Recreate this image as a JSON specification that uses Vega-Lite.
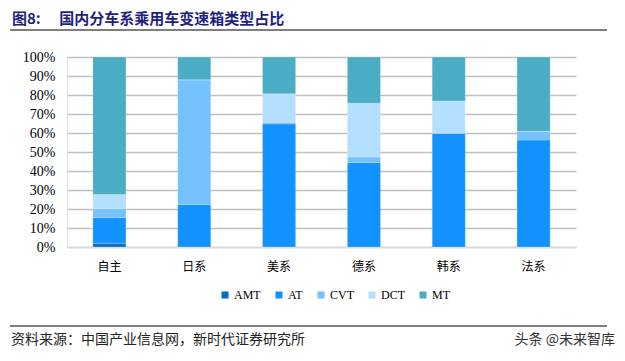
{
  "$schema": "https://vega.github.io/schema/vega-lite/v6.json",
  "autosize": {"type": "none"},
  "width": 509,
  "height": 190,
  "padding": {"left": 67, "top": 57, "right": 49, "bottom": 114},
  "background": "white",
  "title": {
    "text": "图8:　 国内分车系乘用车变速箱类型占比",
    "anchor": "start",
    "frame": "group",
    "dx": -55,
    "dy": 2,
    "font": "Noto Sans CJK SC",
    "fontSize": 15,
    "fontWeight": "bold",
    "color": "#1f1f80"
  },
  "config": {
    "view": {"stroke": null},
    "axis": {"labelFont": "Liberation Serif"}
  },
  "layer": [
    {
      "data": {
        "values": [
          {"brand": "自主", "type": "AMT", "share": 0.02},
          {"brand": "自主", "type": "AT", "share": 0.135},
          {"brand": "自主", "type": "CVT", "share": 0.047},
          {"brand": "自主", "type": "DCT", "share": 0.074},
          {"brand": "自主", "type": "MT", "share": 0.724},
          {"brand": "日系", "type": "AMT", "share": 0},
          {"brand": "日系", "type": "AT", "share": 0.224},
          {"brand": "日系", "type": "CVT", "share": 0.656},
          {"brand": "日系", "type": "DCT", "share": 0},
          {"brand": "日系", "type": "MT", "share": 0.12},
          {"brand": "美系", "type": "AMT", "share": 0},
          {"brand": "美系", "type": "AT", "share": 0.648},
          {"brand": "美系", "type": "CVT", "share": 0.009},
          {"brand": "美系", "type": "DCT", "share": 0.149},
          {"brand": "美系", "type": "MT", "share": 0.194},
          {"brand": "德系", "type": "AMT", "share": 0},
          {"brand": "德系", "type": "AT", "share": 0.445},
          {"brand": "德系", "type": "CVT", "share": 0.029},
          {"brand": "德系", "type": "DCT", "share": 0.283},
          {"brand": "德系", "type": "MT", "share": 0.243},
          {"brand": "韩系", "type": "AMT", "share": 0},
          {"brand": "韩系", "type": "AT", "share": 0.599},
          {"brand": "韩系", "type": "CVT", "share": 0},
          {"brand": "韩系", "type": "DCT", "share": 0.17},
          {"brand": "韩系", "type": "MT", "share": 0.231},
          {"brand": "法系", "type": "AMT", "share": 0},
          {"brand": "法系", "type": "AT", "share": 0.563},
          {"brand": "法系", "type": "CVT", "share": 0.046},
          {"brand": "法系", "type": "DCT", "share": 0},
          {"brand": "法系", "type": "MT", "share": 0.391}
        ]
      },
      "mark": {"type": "bar", "stroke": "white", "strokeWidth": 0.5, "strokeOpacity": 0.4},
      "encoding": {
        "x": {
          "field": "brand",
          "type": "nominal",
          "sort": ["自主", "日系", "美系", "德系", "韩系", "法系"],
          "scale": {"paddingInner": 0.61, "paddingOuter": 0.305},
          "axis": {
            "title": null,
            "labelAngle": 0,
            "labelFont": "Noto Sans CJK SC",
            "labelFontSize": 12,
            "labelColor": "#000000",
            "labelPadding": 14,
            "ticks": false,
            "domainColor": "#d9d9d9",
            "domainWidth": 1.5
          }
        },
        "y": {
          "field": "share",
          "type": "quantitative",
          "stack": "zero",
          "scale": {"domain": [0, 1], "nice": false},
          "axis": {
            "title": null,
            "format": ".0%",
            "values": [0, 0.1, 0.2, 0.3, 0.4, 0.5, 0.6, 0.7, 0.8, 0.9, 1],
            "labelFont": "Liberation Serif",
            "labelFontSize": 14,
            "labelColor": "#000000",
            "labelPadding": 12,
            "ticks": false,
            "domainColor": "#e0e0e0",
            "domainWidth": 1,
            "gridColor": "#bfbfbf",
            "gridWidth": 1.5
          }
        },
        "color": {
          "field": "type",
          "type": "nominal",
          "scale": {
            "domain": ["AMT", "AT", "CVT", "DCT", "MT"],
            "range": ["#0a6fc2", "#1192fe", "#76c1ff", "#b5dfff", "#4bacc6"]
          },
          "legend": {
            "title": null,
            "orient": "none",
            "direction": "horizontal",
            "legendX": 152,
            "legendY": 232,
            "symbolType": "square",
            "symbolSize": 50,
            "symbolStrokeWidth": 0,
            "labelFont": "Liberation Serif",
            "labelFontSize": 12,
            "labelColor": "#000000",
            "columnPadding": 12,
            "labelOffset": 3
          }
        },
        "order": {"field": "type", "sort": "ascending"}
      }
    },
    {
      "data": {"values": [{"line": "top"}]},
      "mark": {"type": "rule", "color": "#7f7f7f", "strokeWidth": 2},
      "encoding": {
        "x": {"value": -57},
        "x2": {"value": 540},
        "y": {"value": -27}
      }
    },
    {
      "data": {"values": [{"line": "bottom"}]},
      "mark": {"type": "rule", "color": "#7f7f7f", "strokeWidth": 2},
      "encoding": {
        "x": {"value": -57},
        "x2": {"value": 540},
        "y": {"value": 269}
      }
    },
    {
      "data": {"values": [{"note": "资料来源：中国产业信息网，新时代证券研究所"}]},
      "mark": {"type": "text", "align": "left", "baseline": "middle", "font": "Noto Sans CJK SC", "fontSize": 14, "color": "#222222"},
      "encoding": {
        "text": {"field": "note"},
        "x": {"value": -56},
        "y": {"value": 283}
      }
    },
    {
      "data": {"values": [{"note": "头条 @未来智库"}]},
      "mark": {"type": "text", "align": "right", "baseline": "middle", "font": "Noto Sans CJK SC", "fontSize": 14, "color": "#333333"},
      "encoding": {
        "text": {"field": "note"},
        "x": {"value": 548},
        "y": {"value": 283}
      }
    }
  ]
}
